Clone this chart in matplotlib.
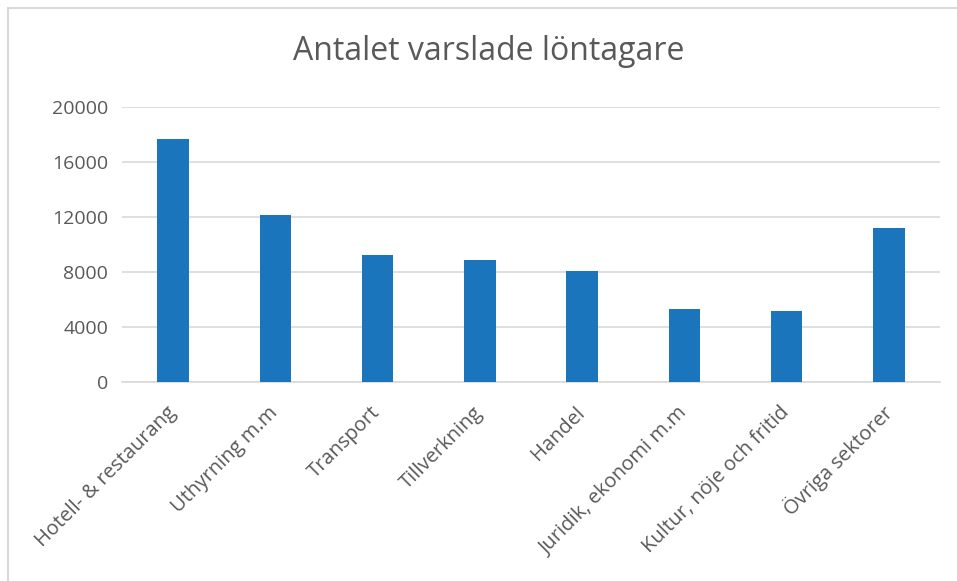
import matplotlib
matplotlib.use("Agg")
import matplotlib.pyplot as plt
from matplotlib.lines import Line2D

categories = ["Hotell- & restaurang", "Uthyrning m.m", "Transport", "Tillverkning",
              "Handel", "Juridik, ekonomi m.m", "Kultur, nöje och fritid", "Övriga sektorer"]
values = [17670, 12150, 9210, 8870, 8070, 5310, 5140, 11200]
yticks = [0, 4000, 8000, 12000, 16000, 20000]

plt.rcParams['font.family'] = ['Open Sans', 'DejaVu Sans']
W, H = 957, 581
fig = plt.figure(figsize=(W/100, H/100), dpi=100)
fig.lines.append(Line2D([8/W, 1.0], [1 - 8/H, 1 - 8/H], transform=fig.transFigure,
                        color='#d9d9d9', linewidth=1.5))
fig.lines.append(Line2D([8/W, 8/W], [0, 1 - 8/H], transform=fig.transFigure,
                        color='#d9d9d9', linewidth=1.5))
ax = fig.add_axes([122/W, 1 - 382/H, (940-122)/W, (382-107)/H])
x = range(len(categories))
ax.bar(x, values, width=0.31, color='#1b75bc', zorder=3)
ax.set_xlim(-0.5, len(categories) - 0.5)
ax.set_ylim(0, 20000)
ax.set_yticks(yticks)
ax.set_yticklabels([str(v) for v in yticks])
ax.grid(axis='y', color='#d9d9d9', linewidth=1.2, zorder=0)
for s in ['top', 'right', 'left']:
    ax.spines[s].set_visible(False)
ax.spines['bottom'].set_color('#d9d9d9')
ax.spines['bottom'].set_linewidth(1.2)
ax.tick_params(axis='y', length=0, colors='#595959', labelsize=14, pad=10)
ax.tick_params(axis='x', length=0, colors='#595959', labelsize=14.5, pad=20)
ax.set_xticks(list(x))
ax.set_xticklabels(categories, rotation=45, ha='right', va='center', rotation_mode='anchor')
fig.text(489/W, 1 - 52/H, "Antalet varslade löntagare", ha='center', va='center',
         fontsize=23, color='#595959')
fig.savefig("out.png", dpi=100)
